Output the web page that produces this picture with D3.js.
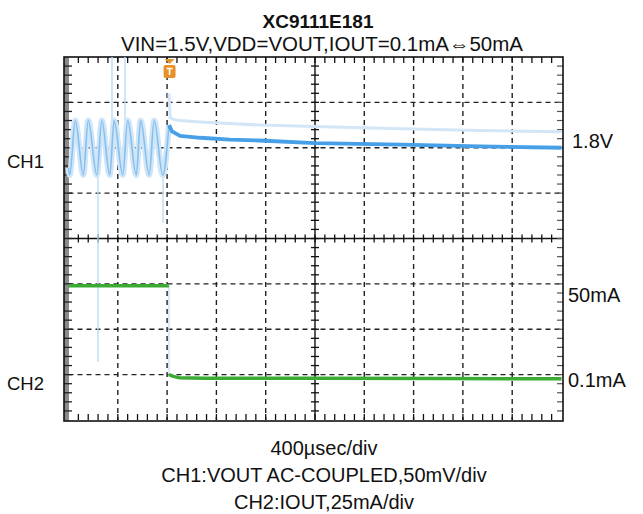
<!DOCTYPE html>
<html><head><meta charset="utf-8">
<script src="https://cdn.jsdelivr.net/npm/d3@7/dist/d3.min.js"></script>
<style>body{margin:0;background:#fff}svg text{font-family:"Liberation Sans",Arial,Helvetica,sans-serif;fill:#111}</style>
</head><body><svg id="c" width="643" height="514"></svg>
<script>
// ---------- data ----------
const titleText = "XC9111E181";
const subtitleText = "VIN=1.5V,VDD=VOUT,IOUT=0.1mA\u21D450mA";
const footerLines = ["400\u00B5sec/div", "CH1:VOUT AC-COUPLED,50mV/div", "CH2:IOUT,25mA/div"];
const channelNames = ["CH1", "CH2"];
const levelLabels = ["1.8V", "50mA", "0.1mA"];

const usPerDiv = 400, divsX = 10, divsY = 8;
const ch1mVPerDiv = 50, ch2mAPerDiv = 25;
const ch1RefDiv = 2, ch2RefDiv = -3.08;   // reference positions (div from centre)
const triggerT = 820;

// CH1 before load step (oscillation), t in µs, v in mV vs 1.8V
const ch1OscT = [0, 10, 55, 120, 160, 230, 270, 335, 370, 440, 480, 550, 585, 655, 695, 765, 815];
const ch1OscV = [-22, -30, 30, -30, 30, -30, 30, -30, 30, -30, 30, -30, 30, -30, 30, -30, 25];
// CH1 after load step
const ch1AfterT = [815, 840, 905, 1070, 1310, 1550, 2000, 2700, 3340, 4000];
const ch1AfterV = [25, 18, 13, 11, 9, 8, 5, 3.5, 1.5, 0];
// CH1 persistence (upper envelope)
const ch1EnvT = [815, 825, 860, 905, 1070, 1550, 2000, 2700, 3340, 4000];
const ch1EnvV = [60, 33, 31, 30, 28.5, 25, 23.5, 21, 19, 17.5];
// CH1 glitches
const ch1SpikeT = [239, 353, 458, 767];
const ch1SpikeTop = [-30, 100, 100, -30];
const ch1SpikeBot = [-236, 30, 30, -83];

// CH2 (mA)
const ch2BeforeT = [0, 815];
const ch2BeforeV = [51, 51];
const ch2AfterT = [815, 850, 900, 1100, 2000, 3000, 4000];
const ch2AfterV = [2, 1, 0.3, 0, 0, -0.2, -0.3];

// ---------- drawing ----------
const svg = d3.select("#c");
const L = 68.5, R = 561.5, T = 57, B = 420;
const x = d3.scaleLinear().domain([0, usPerDiv * divsX]).range([L, R]);
const yDiv = d3.scaleLinear().domain([-divsY / 2, divsY / 2]).range([B, T]);
const y1 = d3.scaleLinear()
  .domain([(-divsY / 2 - ch1RefDiv) * ch1mVPerDiv, (divsY / 2 - ch1RefDiv) * ch1mVPerDiv]).range([B, T]);
const y2 = d3.scaleLinear()
  .domain([(-divsY / 2 - ch2RefDiv) * ch2mAPerDiv, (divsY / 2 - ch2RefDiv) * ch2mAPerDiv]).range([B, T]);
const xDiv = d3.scaleLinear().domain([0, divsX]).range([L, R]);

const g = svg.append("g");
// left gray band
g.append("rect").attr("x", 64).attr("y", T).attr("width", 5).attr("height", B - T + 1).attr("fill", "#8a8a8a");

// dashed grid
for (let i = 1; i < divsX; i++) {
  if (i === 5) continue;
  g.append("line").attr("x1", xDiv(i)).attr("x2", xDiv(i)).attr("y1", T).attr("y2", B)
    .attr("stroke", "#222").attr("stroke-width", 1.4).attr("stroke-dasharray", "5,4");
}
for (let j = -3; j <= 3; j++) {
  if (j === 0) continue;
  g.append("line").attr("x1", L).attr("x2", R).attr("y1", yDiv(j)).attr("y2", yDiv(j))
    .attr("stroke", "#222").attr("stroke-width", 1.4).attr("stroke-dasharray", "5,4");
}
// centre axes
g.append("line").attr("x1", L).attr("x2", R).attr("y1", yDiv(0)).attr("y2", yDiv(0)).attr("stroke", "#111").attr("stroke-width", 1.4);
g.append("line").attr("x1", xDiv(5)).attr("x2", xDiv(5)).attr("y1", T).attr("y2", B).attr("stroke", "#111").attr("stroke-width", 1.4);

// minor ticks
const minorX = d3.range(1, divsX * 5).map(k => k / 5);
const minorY = d3.range(1, divsY * 5).map(k => k / 5 - divsY / 2);
minorX.forEach(d => {
  const xx = xDiv(d);
  g.append("line").attr("x1", xx).attr("x2", xx).attr("y1", yDiv(0) - 4).attr("y2", yDiv(0) + 4).attr("stroke", "#111").attr("stroke-width", 1.3);
  g.append("line").attr("x1", xx).attr("x2", xx).attr("y1", T).attr("y2", T + 6).attr("stroke", "#111").attr("stroke-width", 1.3);
  g.append("line").attr("x1", xx).attr("x2", xx).attr("y1", B - 6).attr("y2", B).attr("stroke", "#111").attr("stroke-width", 1.3);
});
minorY.forEach(d => {
  const yy = yDiv(d);
  g.append("line").attr("x1", xDiv(5) - 4).attr("x2", xDiv(5) + 4).attr("y1", yy).attr("y2", yy).attr("stroke", "#111").attr("stroke-width", 1.3);
  g.append("line").attr("x1", 64).attr("x2", 72).attr("y1", yy).attr("y2", yy).attr("stroke", "#222").attr("stroke-width", 1.3);
  g.append("line").attr("x1", 557).attr("x2", 563).attr("y1", yy).attr("y2", yy).attr("stroke", "#555").attr("stroke-width", 1.2);
});
// frame
g.append("rect").attr("x", 64).attr("y", T).attr("width", 563 - 64).attr("height", B - T + 1)
  .attr("fill", "none").attr("stroke", "#111").attr("stroke-width", 1.6);

// ---------- traces ----------
const zip = (ts, vs) => ts.map((t, i) => [t, vs[i]]);
const line1 = d3.line().x(d => x(d[0])).y(d => y1(d[1]));
const line1s = d3.line().x(d => x(d[0])).y(d => y1(d[1])).curve(d3.curveMonotoneX);
const line2 = d3.line().x(d => x(d[0])).y(d => y2(d[1]));
const tr = svg.append("g");

// glitches
ch1SpikeT.forEach((t, i) => {
  tr.append("line").attr("x1", x(t)).attr("x2", x(t)).attr("y1", y1(ch1SpikeTop[i])).attr("y2", y1(ch1SpikeBot[i]))
    .attr("stroke", "#bcdcf5").attr("stroke-width", 1.4);
});
// CH1 envelope
tr.append("path").datum(zip(ch1EnvT, ch1EnvV)).attr("d", line1).attr("fill", "none")
  .attr("stroke", "#d2e6f8").attr("stroke-width", 3);
// CH1 oscillation
tr.append("path").datum(zip(ch1OscT, ch1OscV)).attr("d", line1s).attr("fill", "none")
  .attr("stroke", "#cfe5f8").attr("stroke-width", 6).attr("stroke-linejoin", "round");
tr.append("path").datum(zip(ch1OscT, ch1OscV)).attr("d", line1s).attr("fill", "none")
  .attr("stroke", "#86bfee").attr("stroke-width", 1.6).attr("stroke-linejoin", "round");
// CH1 after step
tr.append("path").datum(zip(ch1AfterT, ch1AfterV)).attr("d", line1).attr("fill", "none")
  .attr("stroke", "#479fe7").attr("stroke-width", 3.8).attr("stroke-linejoin", "round");

// CH2 edge
tr.append("line").attr("x1", x(ch2BeforeT[1])).attr("x2", x(ch2AfterT[0]))
  .attr("y1", y2(ch2BeforeV[1])).attr("y2", y2(ch2AfterV[0])).attr("stroke", "#c9dff2").attr("stroke-width", 1.3);
tr.append("path").datum(zip(ch2BeforeT, ch2BeforeV)).attr("d", line2).attr("fill", "none")
  .attr("stroke", "#3cab33").attr("stroke-width", 3.5);
tr.append("path").datum(zip(ch2AfterT, ch2AfterV)).attr("d", line2).attr("fill", "none")
  .attr("stroke", "#3cab33").attr("stroke-width", 3.5);

// trigger marker
const tx = x(triggerT);
const trg = svg.append("g");
trg.append("path").attr("d", `M${tx - 5},59 L${tx + 5},59 L${tx},64 Z`).attr("fill", "#e8902a");
trg.append("rect").attr("x", tx - 6).attr("y", 65).attr("width", 12).attr("height", 13).attr("rx", 2).attr("fill", "#e8902a");
trg.append("path").attr("d", `M${tx - 3},68.5 L${tx + 3},68.5 M${tx},68.5 L${tx},75`).attr("stroke", "#fff").attr("stroke-width", 1.6);

// ---------- text ----------
svg.append("text").attr("x", 318).attr("y", 28).attr("text-anchor", "middle")
  .attr("font-size", 19).attr("font-weight", "bold").text(titleText);
svg.append("text").attr("x", 322).attr("y", 51).attr("text-anchor", "middle")
  .attr("font-size", 20.5).text(subtitleText);
footerLines.forEach((s, i) => {
  svg.append("text").attr("x", 324).attr("y", 455 + i * 27).attr("text-anchor", "middle")
    .attr("font-size", 20).text(s);
});
svg.append("text").attr("x", 7).attr("y", 168).attr("font-size", 18.5).text(channelNames[0]);
svg.append("text").attr("x", 7).attr("y", 390).attr("font-size", 18.5).text(channelNames[1]);
svg.append("text").attr("x", 572).attr("y", 148).attr("font-size", 20).text(levelLabels[0]);
svg.append("text").attr("x", 568).attr("y", 302).attr("font-size", 20).text(levelLabels[1]);
svg.append("text").attr("x", 568).attr("y", 387).attr("font-size", 20).text(levelLabels[2]);
</script></body></html>
